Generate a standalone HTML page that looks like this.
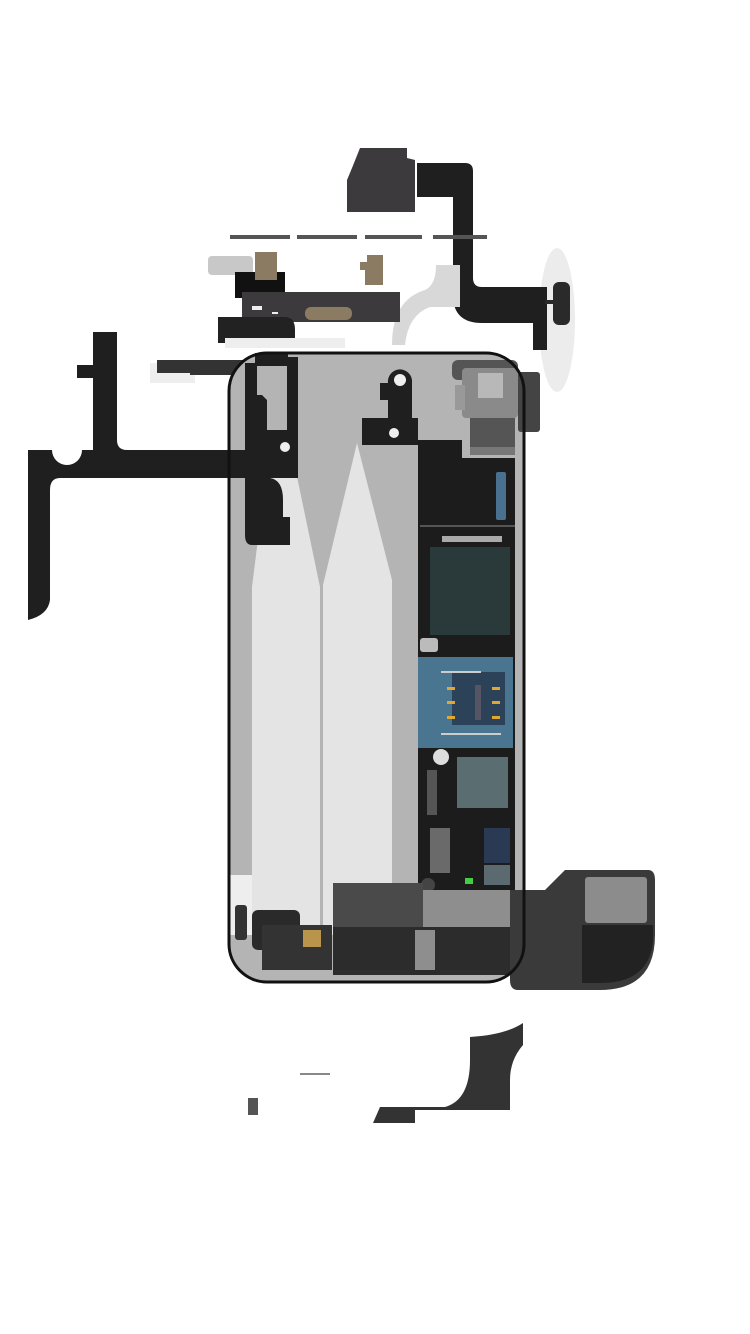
<!DOCTYPE html>
<html><head><meta charset="utf-8"><style>html,body{margin:0;padding:0;background:#fff}svg{display:block}</style></head>
<body>
<svg width="750" height="1334" viewBox="0 0 750 1334" xmlns="http://www.w3.org/2000/svg">
<rect width="750" height="1334" fill="#fff"/>
<!-- top right light ellipse -->
<ellipse cx="557" cy="320" rx="18" ry="72" fill="#ececec"/>
<!-- camera bracket -->
<polygon points="360,148 407,148 407,158 415,160 415,212 347,212 347,180 352,168" fill="#3d3a3d"/>
<!-- black flex top -->
<path d="M417,163 H465 Q473,163 473,171 V278 Q473,287 482,287 H547 V350 H533 V323 H482 Q453,323 453,295 V197 H417 Z" fill="#1f1f1f"/>
<rect x="553" y="282" width="17" height="43" rx="6" fill="#2a2a2a"/>
<rect x="545" y="300" width="12" height="4" fill="#2a2a2a"/>
<!-- dashes -->
<rect x="230" y="235" width="60" height="4" fill="#555"/>
<rect x="297" y="235" width="60" height="4" fill="#555"/>
<rect x="365" y="235" width="57" height="4" fill="#555"/>
<rect x="433" y="235" width="54" height="4" fill="#555"/>
<!-- light curved piece -->
<path d="M436,265 H460 V307 H430 Q408,315 405,345 H392 Q392,300 425,290 Q436,285 436,265 Z" fill="#d8d8d8"/>
<!-- left small pieces -->
<rect x="208" y="256" width="45" height="19" rx="4" fill="#c8c8c8"/>
<rect x="235" y="272" width="50" height="26" fill="#111"/>
<rect x="255" y="252" width="22" height="28" fill="#8b7b63"/>
<polygon points="367,255 383,255 383,285 365,285 365,270 360,270 360,262 367,262" fill="#8b7b63"/>
<rect x="242" y="292" width="158" height="30" fill="#3d3a3d"/>
<rect x="305" y="307" width="47" height="13" rx="6" fill="#8b7b63"/>
<rect x="252" y="306" width="10" height="4" fill="#eee"/>
<rect x="272" y="312" width="6" height="2" fill="#eee"/>
<path d="M218,317 H285 Q295,317 295,330 V338 H225 V343 H218 Z" fill="#222"/>
<rect x="225" y="338" width="120" height="10" fill="#eee"/>
<rect x="150" y="363" width="45" height="20" fill="#eee"/>
<rect x="157" y="360" width="106" height="13" fill="#333"/>
<rect x="190" y="365" width="73" height="10" fill="#333"/>

<!-- phone body -->
<rect x="229" y="353" width="295" height="629" rx="38" fill="#b4b4b4"/>
<rect x="230" y="875" width="22" height="60" fill="#eee"/>
<!-- light panels -->
<polygon points="252,935 252,587 267,467 295,467 320,587 320,935" fill="#e4e4e4"/>
<polygon points="323,935 323,585 357,443 392,580 392,935" fill="#e4e4e4"/>
<!-- left black flex -->
<path d="M93,332 H117 V440 Q117,450 127,450 H245 V363 H255 V353 H288 V357 H298 V478 H270 Q283,480 283,500 V517 H290 V545 H252 Q245,545 245,535 V478 H60 Q50,478 50,490 V600 Q48,615 28,620 V450 H52 A15,15 0 0 0 82,450 H93 V378 H77 V365 H93 Z" fill="#1f1f1f"/>
<path d="M257,366 H287 V430 H267 V400 L262,395 H257 Z" fill="#b4b4b4"/>
<circle cx="285" cy="447" r="5" fill="#eee"/>
<!-- top middle bracket -->
<path d="M380,383 H388 A12,12 0 0 1 412,380 V418 H418 V445 H362 V418 H388 V400 H380 Z" fill="#1f1f1f"/>
<circle cx="400" cy="380" r="6" fill="#eee"/>
<circle cx="394" cy="433" r="5" fill="#eee"/>
<!-- board -->
<path d="M418,440 H462 V458 H515 V890 H418 Z" fill="#1c1c1c"/>
<!-- camera -->
<rect x="452" y="360" width="66" height="20" rx="6" fill="#555"/>
<rect x="462" y="368" width="56" height="50" rx="4" fill="#8a8a8a"/>
<rect x="455" y="385" width="10" height="25" fill="#999"/>
<rect x="478" y="373" width="25" height="25" fill="#b8b8b8"/>
<rect x="470" y="418" width="45" height="30" fill="#555"/>
<rect x="470" y="447" width="45" height="8" fill="#777"/>
<rect x="518" y="372" width="22" height="60" rx="3" fill="#444"/>
<rect x="496" y="472" width="10" height="48" rx="2" fill="#4a7090"/>
<rect x="420" y="525" width="95" height="2" fill="#555"/>
<rect x="442" y="536" width="60" height="6" fill="#aaa"/>
<rect x="430" y="547" width="80" height="88" fill="#2a3a3a"/>
<rect x="420" y="638" width="18" height="14" rx="3" fill="#bbb"/>
<!-- blue section -->
<rect x="418" y="657" width="95" height="91" fill="#4a7590"/>
<rect x="452" y="672" width="53" height="53" fill="#2c4258"/>
<g fill="#e0a830"><rect x="447" y="687" width="8" height="3"/><rect x="447" y="701" width="8" height="3"/><rect x="447" y="716" width="8" height="3"/><rect x="492" y="687" width="8" height="3"/><rect x="492" y="701" width="8" height="3"/><rect x="492" y="716" width="8" height="3"/></g>
<rect x="475" y="685" width="6" height="35" fill="#556"/>
<rect x="441" y="671" width="40" height="2" fill="#ccc"/>
<rect x="441" y="733" width="60" height="2" fill="#ccc"/>
<!-- lower board -->
<circle cx="441" cy="757" r="8" fill="#ddd"/>
<rect x="427" y="770" width="10" height="45" fill="#555"/>
<rect x="457" y="757" width="51" height="51" fill="#5a6e72"/>
<rect x="430" y="828" width="20" height="45" fill="#6a6a6a"/>
<rect x="484" y="828" width="26" height="35" fill="#2a3a55"/>
<rect x="484" y="865" width="26" height="20" fill="#5a6a70"/>
<rect x="465" y="878" width="8" height="6" fill="#4c4"/>
<circle cx="428" cy="885" r="7" fill="#444"/>
<!-- bottom blocks -->
<rect x="333" y="883" width="90" height="45" fill="#4a4a4a"/>
<rect x="423" y="890" width="95" height="38" fill="#8e8e8e"/>
<rect x="333" y="927" width="185" height="48" fill="#2c2c2c"/>
<rect x="415" y="930" width="20" height="40" fill="#8e8e8e"/>
<rect x="252" y="910" width="48" height="40" rx="6" fill="#2a2a2a"/>
<rect x="235" y="905" width="12" height="35" rx="3" fill="#333"/>
<rect x="262" y="925" width="70" height="45" fill="#333"/>
<rect x="303" y="930" width="18" height="17" fill="#b8954a"/>
<!-- speaker -->
<path d="M510,890 H545 L565,870 H648 Q655,870 655,880 V935 Q655,990 600,990 H518 Q510,990 510,980 Z" fill="#3a3a3a"/>
<rect x="585" y="877" width="62" height="46" rx="3" fill="#8c8c8c"/>
<path d="M582,925 H653 V940 Q650,983 600,983 H582 Z" fill="#222"/>
<!-- phone outline -->
<rect x="229" y="353" width="295" height="629" rx="38" fill="none" stroke="#111" stroke-width="3"/>
<!-- bottom piece -->
<path d="M470,1037 Q505,1035 523,1023 V1045 Q510,1060 510,1080 V1110 H415 V1123 H373 L380,1107 H445 Q470,1100 470,1060 Z" fill="#333"/>
<rect x="248" y="1098" width="10" height="17" fill="#555"/>
<rect x="300" y="1073" width="30" height="2" fill="#888"/>
</svg>
</body></html>
